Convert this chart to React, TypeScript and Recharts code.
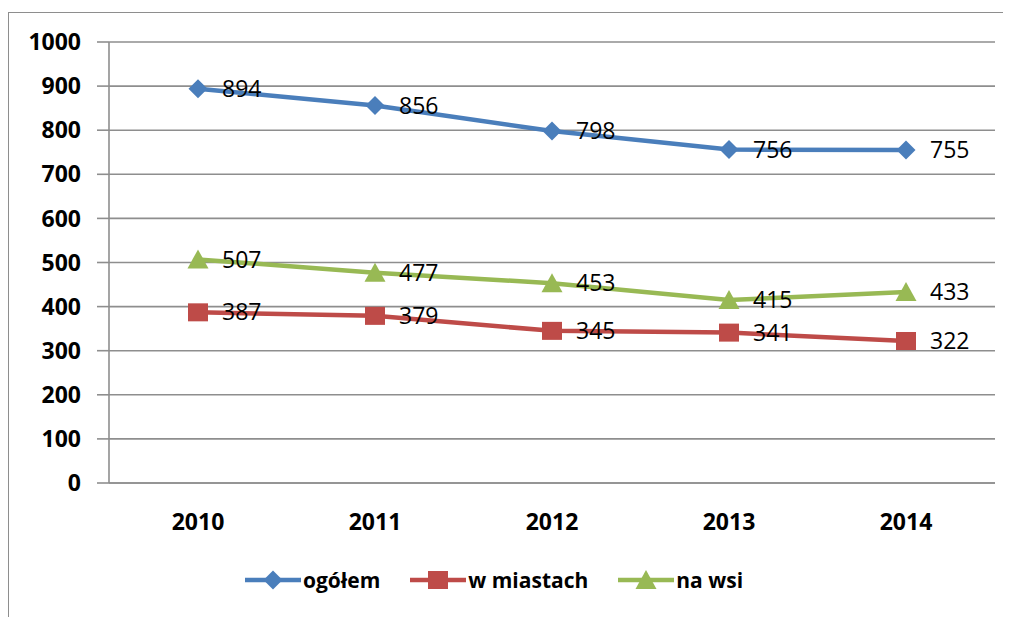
import { CartesianGrid, LabelList, Legend, Line, LineChart, XAxis, YAxis } from "recharts";

const lata = ["2010", "2011", "2012", "2013", "2014"];
const ogolem = [894, 856, 798, 756, 755];
const wMiastach = [387, 379, 345, 341, 322];
const naWsi = [507, 477, 453, 415, 433];
const yTicks = [0, 100, 200, 300, 400, 500, 600, 700, 800, 900, 1000];

const serie = [
    { key: "ogolem", name: "ogółem", color: "#4A7EBB", shape: "diamond" },
    { key: "wMiastach", name: "w miastach", color: "#BE4B48", shape: "square" },
    { key: "naWsi", name: "na wsi", color: "#98B954", shape: "triangle" },
];

const dane = lata.map((rok, i) => ({
    rok,
    ogolem: ogolem[i],
    wMiastach: wMiastach[i],
    naWsi: naWsi[i],
}));

const FONT = "'Open Sans', 'DejaVu Sans', sans-serif";
const SZARY = "#8E8E8E";

function Marker({ cx, cy, shape, color }: { cx: number; cy: number; shape: string; color: string }) {
    if (cx == null || cy == null) return null;
    if (shape === "diamond") {
        return <polygon points={`${cx},${cy - 9.5} ${cx + 9.5},${cy} ${cx},${cy + 9.5} ${cx - 9.5},${cy}`} fill={color} />;
    }
    if (shape === "square") {
        return <rect x={cx - 10} y={cy - 9} width={20} height={18} fill={color} />;
    }
    return <polygon points={`${cx},${cy - 10} ${cx + 10.5},${cy + 9} ${cx - 10.5},${cy + 9}`} fill={color} />;
}

const LegendaWlasna = () => (
    <div style={{ display: "flex", alignItems: "center", paddingLeft: 237, fontFamily: FONT, fontWeight: 700, fontSize: 21, color: "#000" }}>
        {serie.map((s) => (
            <div key={s.key} style={{ display: "flex", alignItems: "center", marginRight: 30 }}>
                <svg width={56} height={24}>
                    <line x1={0} y1={12} x2={56} y2={12} stroke={s.color} strokeWidth={4.5} />
                    <Marker cx={28} cy={12} shape={s.shape} color={s.color} />
                </svg>
                <span style={{ marginLeft: 2 }}>{s.name}</span>
            </div>
        ))}
    </div>
);

const App = () => {
    return (
        <div style={{ position: "relative", width: 1003, height: 609, overflow: "hidden" }}>
            <div style={{ position: "absolute", left: 0, top: 4, width: 1100, height: 700, border: `1.5px solid ${SZARY}` }} />
            <div style={{ position: "absolute", left: 0, top: 0 }}>
                <LineChart width={1003} height={609} data={dane} margin={{ top: 34, right: 16, left: 0, bottom: 34 }}>
                    <CartesianGrid vertical={false} stroke={SZARY} strokeWidth={1.6} strokeDasharray="" />
                    <XAxis
                        dataKey="rok"
                        padding={{ left: 89, right: 89 }}
                        axisLine={{ stroke: SZARY, strokeWidth: 1.6 }}
                        tickLine={false}
                        tickMargin={25}
                        height={40}
                        tick={{ fill: "#000", fontFamily: FONT, fontWeight: 700, fontSize: 23 }}
                    />
                    <YAxis
                        domain={[0, 1000]}
                        ticks={yTicks}
                        width={101}
                        tickSize={12}
                        tickMargin={16}
                        axisLine={{ stroke: SZARY, strokeWidth: 1.6 }}
                        tickLine={{ stroke: SZARY, strokeWidth: 1.6 }}
                        tick={{ fill: "#000", fontFamily: FONT, fontWeight: 700, fontSize: 23 }}
                    />
                    <Legend verticalAlign="bottom" height={60} content={<LegendaWlasna />} wrapperStyle={{ left: 0, width: 1003, bottom: -9 }} />
                    {serie.map((s) => (
                        <Line
                            key={s.key}
                            type="linear"
                            dataKey={s.key}
                            name={s.name}
                            stroke={s.color}
                            strokeWidth={4.5}
                            isAnimationActive={false}
                            dot={(p: any) => <Marker key={`${s.key}-${p.index}`} cx={p.cx} cy={p.cy} shape={s.shape} color={s.color} />}
                            activeDot={false}
                        >
                            <LabelList
                                dataKey={s.key}
                                position="right"
                                offset={24}
                                style={{ fill: "#000", fontFamily: FONT, fontSize: 23, fontWeight: 500 }}
                            />
                        </Line>
                    ))}
                </LineChart>
            </div>
        </div>
    );
};

export default App;
